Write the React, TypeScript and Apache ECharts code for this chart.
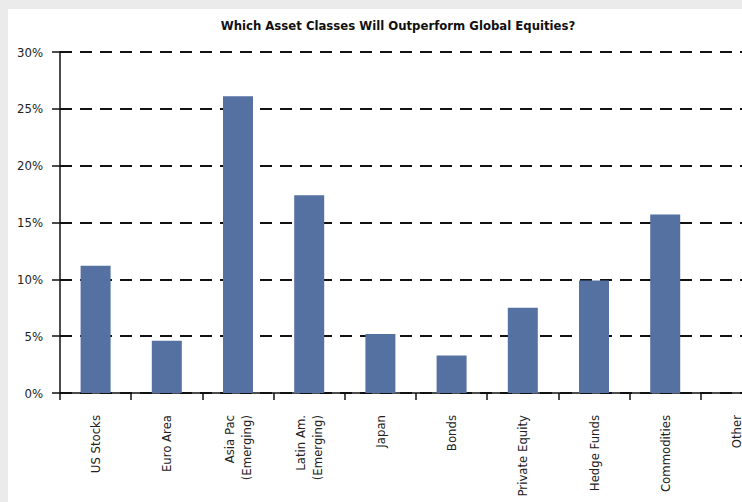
import React, { useEffect, useRef } from "react";
import * as echarts from "echarts";

const titleText = "Which Asset Classes Will Outperform Global Equities?";
const categories = [
  "US Stocks",
  "Euro Area",
  "Asia Pac\n(Emerging)",
  "Latin Am.\n(Emerging)",
  "Japan",
  "Bonds",
  "Private Equity",
  "Hedge Funds",
  "Commodities",
  "Other",
];
const values = [11.2, 4.6, 26.1, 17.4, 5.2, 3.3, 7.5, 9.9, 15.7, 0];
const yTicks = { min: 0, max: 30, interval: 5 };

const FONT = "'Liberation Sans Narrow', 'DejaVu Sans Condensed', 'Arial Narrow', sans-serif";

export default function App() {
  const ref = useRef<HTMLDivElement>(null);
  useEffect(() => {
    if (!ref.current) return;
    const chart = echarts.init(ref.current, undefined, { renderer: "svg" });
    chart.setOption({
      animation: false,
      backgroundColor: "#ffffff",
      textStyle: { fontFamily: FONT },
      title: {
        text: titleText,
        left: 385,
        top: 5,
        textAlign: "center",
        textStyle: { fontFamily: FONT, fontSize: 13, fontWeight: "bold", color: "#111" },
      },
      grid: { left: 52, top: 43, bottom: 109, right: 10 },
      xAxis: {
        type: "category",
        data: categories,
        axisLine: { show: true, lineStyle: { color: "#111", width: 1.5 } },
        axisTick: { show: true, length: 7, lineStyle: { color: "#111", width: 1.5 } },
        axisLabel: {
          rotate: 90,
          margin: 22,
          fontFamily: FONT,
          fontSize: 13,
          color: "#222",
          lineHeight: 17,
        },
      },
      yAxis: {
        type: "value",
        min: yTicks.min,
        max: yTicks.max,
        interval: yTicks.interval,
        axisLine: { show: true, lineStyle: { color: "#111", width: 1.5 } },
        axisTick: { show: true, length: 8, lineStyle: { color: "#111", width: 1.5 } },
        axisLabel: {
          formatter: "{value}%",
          margin: 17,
          fontFamily: FONT,
          fontSize: 13,
          color: "#222",
        },
        splitLine: {
          show: true,
          lineStyle: { color: "#111", width: 2, type: [12, 8] },
        },
      },
      series: [
        {
          type: "bar",
          data: values,
          barWidth: 30,
          itemStyle: { color: "#5571A2" },
        },
      ],
    });
    return () => chart.dispose();
  }, []);
  return (
    <div style={{ position: "fixed", left: 0, top: 0, width: 742, height: 502, background: "#ebebeb" }}>
      <div style={{ position: "absolute", left: 8, top: 9, width: 734, height: 493, overflow: "hidden", background: "#fff" }}>
        <div ref={ref} style={{ width: 774, height: 493 }} />
      </div>
    </div>
  );
}
